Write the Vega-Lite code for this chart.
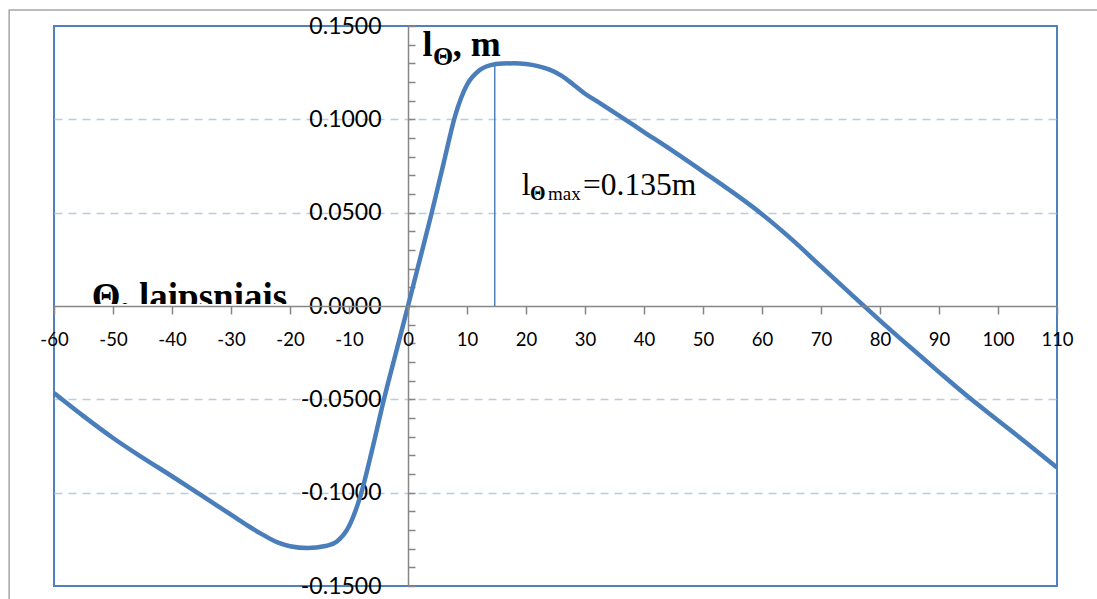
{
  "$schema": "https://vega.github.io/schema/vega-lite/v6.json",
  "width": 1003,
  "height": 560,
  "autosize": {"type": "none"},
  "padding": {"left": 54, "top": 26, "right": 40, "bottom": 13},
  "background": "white",
  "config": {"view": {"stroke": "#4f81bd", "strokeWidth": 2}, "font": "Lato"},
  "datasets": {
    "curve": [
      {"theta": -60, "l": -0.0466}, {"theta": -55, "l": -0.0590}, {"theta": -50, "l": -0.0707},
      {"theta": -45, "l": -0.0812}, {"theta": -40, "l": -0.0912}, {"theta": -35, "l": -0.1014},
      {"theta": -30, "l": -0.1118}, {"theta": -27, "l": -0.1180}, {"theta": -25, "l": -0.1218},
      {"theta": -22, "l": -0.1268}, {"theta": -20, "l": -0.1287}, {"theta": -17, "l": -0.1297},
      {"theta": -14, "l": -0.1286}, {"theta": -12, "l": -0.1260}, {"theta": -10, "l": -0.1180},
      {"theta": -8, "l": -0.1010}, {"theta": -6, "l": -0.0760}, {"theta": -4, "l": -0.0490},
      {"theta": -2, "l": -0.0245}, {"theta": 0, "l": 0.0}, {"theta": 2, "l": 0.0248},
      {"theta": 4, "l": 0.0497}, {"theta": 6, "l": 0.0760}, {"theta": 8, "l": 0.1020},
      {"theta": 10, "l": 0.1185}, {"theta": 12, "l": 0.1260}, {"theta": 14, "l": 0.1290},
      {"theta": 16, "l": 0.1299}, {"theta": 18, "l": 0.1300}, {"theta": 20, "l": 0.1296},
      {"theta": 22, "l": 0.1285}, {"theta": 24, "l": 0.1266}, {"theta": 26, "l": 0.1234},
      {"theta": 28, "l": 0.1187}, {"theta": 30, "l": 0.1137}, {"theta": 32, "l": 0.1097},
      {"theta": 35, "l": 0.1036}, {"theta": 40, "l": 0.0932}, {"theta": 45, "l": 0.0828},
      {"theta": 50, "l": 0.0720}, {"theta": 55, "l": 0.0610}, {"theta": 60, "l": 0.0492},
      {"theta": 65, "l": 0.0358}, {"theta": 70, "l": 0.0212}, {"theta": 75, "l": 0.0066},
      {"theta": 80, "l": -0.0078}, {"theta": 85, "l": -0.0217}, {"theta": 90, "l": -0.0354},
      {"theta": 95, "l": -0.0488}, {"theta": 100, "l": -0.0613}, {"theta": 105, "l": -0.0738},
      {"theta": 110, "l": -0.0865}
    ]
  },
  "layer": [
    {
      "data": {"name": "curve"},
      "mark": {"type": "line", "color": "#4a7ebb", "strokeWidth": 4.5, "interpolate": "monotone"},
      "encoding": {
        "x": {
          "field": "theta", "type": "quantitative",
          "scale": {"domain": [-60, 110], "nice": false, "zero": false},
          "axis": {
            "orient": "bottom", "offset": -280, "title": null, "grid": false,
            "values": [-60, -50, -40, -30, -20, -10, 0, 10, 20, 30, 40, 50, 60, 70, 80, 90, 100, 110],
            "tickCount": 18,
            "labelExpr": "'' + datum.value",
            "domainColor": "#868686", "domainWidth": 1.5,
            "tickColor": "#868686", "tickWidth": 1.5, "tickSize": 8,
            "labelFont": "Lato", "labelFontSize": 18.5, "labelColor": "#000000",
            "labelPadding": 16, "labelFlush": false, "labelOverlap": false, "labelBound": false,
            "zindex": 1
          }
        },
        "y": {
          "field": "l", "type": "quantitative",
          "scale": {"domain": [-0.15, 0.15], "nice": false, "zero": false},
          "axis": {
            "orient": "left", "offset": -354, "title": null,
            "values": [-0.15, -0.14, -0.13, -0.12, -0.11, -0.1, -0.09, -0.08, -0.07, -0.06, -0.05, -0.04, -0.03, -0.02, -0.01, 0, 0.01, 0.02, 0.03, 0.04, 0.05, 0.06, 0.07, 0.08, 0.09, 0.1, 0.11, 0.12, 0.13, 0.14, 0.15],
            "tickCount": 31,
            "labelExpr": "abs(round(datum.value*100)) % 5 == 0 ? replace(format(datum.value, '.4f'), '−', '-') : ''",
            "domainColor": "#868686", "domainWidth": 1.5,
            "tickColor": "#868686", "tickWidth": 1.5, "tickSize": -7,
            "labelFont": "Lato", "labelFontSize": 23, "labelColor": "#000000",
            "labelPadding": 34, "labelFlush": false, "labelOverlap": false, "labelBound": false,
            "grid": true, "gridColor": "#b9cbe8", "gridDash": [8, 6], "gridWidth": 1.5,
            "gridOpacity": {"condition": {"test": "abs(round(datum.value*100)) % 5 == 0 && abs(datum.value) > 0.001 && abs(datum.value) < 0.14", "value": 1}, "value": 0},
            "zindex": 0
          }
        }
      }
    },
    {
      "data": {"values": [{}]},
      "mark": {"type": "rect", "fill": null, "stroke": "#a6a6a6", "strokeWidth": 1.5, "clip": false},
      "encoding": {
        "x": {"datum": -67.6, "type": "quantitative"},
        "x2": {"datum": 130},
        "y": {"datum": 0.1586, "type": "quantitative"},
        "y2": {"datum": -0.2}
      }
    },
    {
      "data": {"values": [{}]},
      "mark": {"type": "rule", "color": "#4f81bd", "strokeWidth": 1.5},
      "encoding": {
        "x": {"datum": 14.7, "type": "quantitative"},
        "y": {"datum": 0, "type": "quantitative"},
        "y2": {"datum": 0.1292}
      }
    },
    {
      "data": {"values": [{}]},
      "mark": {"type": "text", "text": "l", "font": "Liberation Serif", "fontWeight": "bold", "fontSize": 36, "align": "left", "baseline": "alphabetic", "color": "#000000"},
      "encoding": {
        "x": {"datum": 2.47, "type": "quantitative"},
        "y": {"datum": 0.1339, "type": "quantitative"}
      }
    },
    {
      "data": {"values": [{}]},
      "mark": {"type": "text", "text": "Θ", "font": "Liberation Serif", "fontWeight": "bold", "fontSize": 26, "align": "left", "baseline": "alphabetic", "color": "#000000"},
      "encoding": {
        "x": {"datum": 4.22, "type": "quantitative"},
        "y": {"datum": 0.1290, "type": "quantitative"}
      }
    },
    {
      "data": {"values": [{}]},
      "mark": {"type": "text", "text": ", m", "font": "Liberation Serif", "fontWeight": "bold", "fontSize": 36, "align": "left", "baseline": "alphabetic", "color": "#000000"},
      "encoding": {
        "x": {"datum": 7.6, "type": "quantitative"},
        "y": {"datum": 0.1339, "type": "quantitative"}
      }
    },
    {
      "data": {"values": [{}]},
      "mark": {"type": "text", "text": "l", "font": "Liberation Serif", "fontSize": 31.5, "align": "left", "baseline": "alphabetic", "color": "#000000"},
      "encoding": {
        "x": {"datum": 19.27, "type": "quantitative"},
        "y": {"datum": 0.0595, "type": "quantitative"}
      }
    },
    {
      "data": {"values": [{}]},
      "mark": {"type": "text", "text": "Θ", "font": "Liberation Serif", "fontWeight": "bold", "fontSize": 20, "align": "left", "baseline": "alphabetic", "color": "#000000"},
      "encoding": {
        "x": {"datum": 20.68, "type": "quantitative"},
        "y": {"datum": 0.0568, "type": "quantitative"}
      }
    },
    {
      "data": {"values": [{}]},
      "mark": {"type": "text", "text": "max", "font": "Liberation Serif", "fontSize": 19, "align": "left", "baseline": "alphabetic", "color": "#000000"},
      "encoding": {
        "x": {"datum": 23.73, "type": "quantitative"},
        "y": {"datum": 0.0568, "type": "quantitative"}
      }
    },
    {
      "data": {"values": [{}]},
      "mark": {"type": "text", "text": "=0.135m", "font": "Liberation Serif", "fontSize": 31.5, "align": "left", "baseline": "alphabetic", "color": "#000000"},
      "encoding": {
        "x": {"datum": 29.66, "type": "quantitative"},
        "y": {"datum": 0.0595, "type": "quantitative"}
      }
    },
    {
      "data": {"values": [{}]},
      "mark": {"type": "text", "text": "Θ, laipsniais", "font": "Liberation Serif", "fontWeight": "bold", "fontSize": 37, "align": "left", "baseline": "alphabetic", "color": "#000000"},
      "encoding": {
        "x": {"datum": -53.6, "type": "quantitative"},
        "y": {"datum": -0.00134, "type": "quantitative"}
      }
    },
    {
      "data": {"values": [{}]},
      "mark": {"type": "rect", "fill": "white", "stroke": null},
      "encoding": {
        "x": {"datum": -56, "type": "quantitative"},
        "x2": {"datum": -18},
        "y": {"datum": 0.0011, "type": "quantitative"},
        "y2": {"datum": -0.009}
      }
    }
  ]
}
